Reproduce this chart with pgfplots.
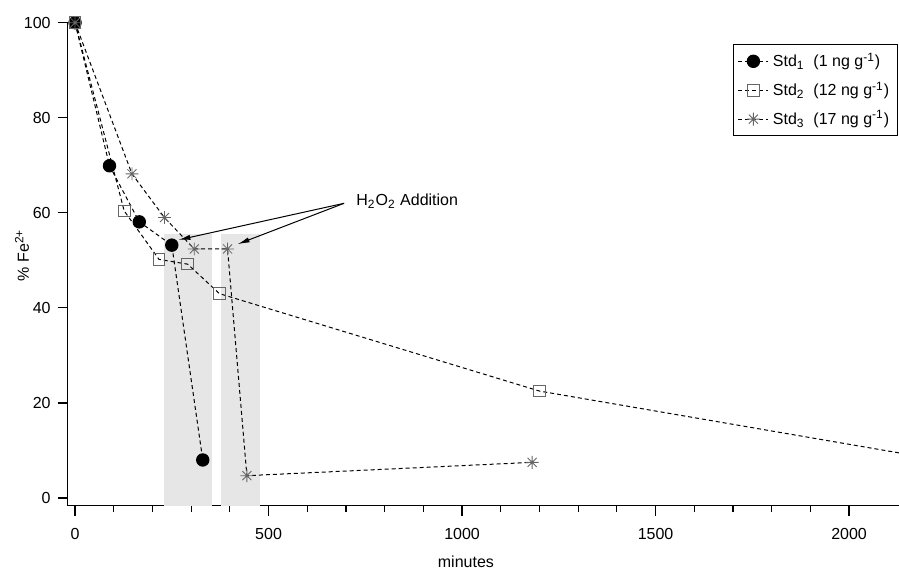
\documentclass[border=0pt]{standalone}
\usepackage{pgfplots}
\pgfplotsset{compat=1.18}
\usepackage{fontspec}
\setmainfont{Liberation Sans}
\usetikzlibrary{arrows.meta}
\definecolor{shade}{HTML}{E6E6E6}
\definecolor{mkgray}{HTML}{666666}
% eight-armed star marker
\pgfdeclareplotmark{star8}{%
  \pgfpathmoveto{\pgfqpoint{0pt}{\pgfplotmarksize}}%
  \pgfpathlineto{\pgfqpoint{0pt}{-\pgfplotmarksize}}%
  \pgfpathmoveto{\pgfqpoint{\pgfplotmarksize}{0pt}}%
  \pgfpathlineto{\pgfqpoint{-\pgfplotmarksize}{0pt}}%
  \pgfpathmoveto{\pgfqpoint{.7071\pgfplotmarksize}{.7071\pgfplotmarksize}}%
  \pgfpathlineto{\pgfqpoint{-.7071\pgfplotmarksize}{-.7071\pgfplotmarksize}}%
  \pgfpathmoveto{\pgfqpoint{-.7071\pgfplotmarksize}{.7071\pgfplotmarksize}}%
  \pgfpathlineto{\pgfqpoint{.7071\pgfplotmarksize}{-.7071\pgfplotmarksize}}%
  \pgfusepathqstroke}
\tikzset{
  dln/.style={black, line width=0.5pt, dash pattern=on 2pt off 1.5pt},
}
\begin{document}
\begin{tikzpicture}
\useasboundingbox (-33.85pt,-31.65pt) rectangle (415.65pt,252.85pt);
\begin{axis}[
  at={(0,0)}, anchor=south west,
  scale only axis, width=415.65pt, height=241.5pt,
  xmin=-19, xmax=2129, ymin=-1.62, ymax=100,
  axis lines=left, axis line style={-, line width=0.65pt},
  tick align=outside, major tick length=5pt, minor tick length=3pt,
  tick style={black, line width=0.6pt},
  xtick={0,500,1000,1500,2000}, minor x tick num=4,
  ytick={0,20,...,100}, minor y tick num=0,
  font=\fontsize{8}{9.6}\selectfont,
  /pgf/number format/assume math mode=true,
  /pgf/number format/1000 sep={},
  xticklabel style={yshift=-3pt},
  xlabel={minutes}, ylabel={\% Fe\textsuperscript{2+}},
  xlabel style={at={(axis description cs:0.479,-0.1166)}, anchor=center},
  ylabel style={at={(axis description cs:-0.055,0.519)}, anchor=center},
  clip=true,
  legend cell align=left,
  legend style={at={(axis description cs:0.8003,0.956)}, anchor=north west,
    draw=black, line width=0.5pt, fill=white, inner sep=2.2pt,
    row sep=2pt, font=\fontsize{8}{9.6}\selectfont,
    /tikz/every even column/.append style={column sep=2pt}},
  legend image code/.code={\draw[#1, mark repeat=2, mark phase=2]
    plot coordinates {(0pt,0pt) (7.5pt,0pt) (15pt,0pt)};},
]
% H2O2 addition windows
\addplot[fill=shade, draw=none, forget plot] coordinates
  {(230,-1.62) (230,55.5) (353.5,55.5) (353.5,-1.62)} -- cycle;
\addplot[fill=shade, draw=none, forget plot] coordinates
  {(376,-1.62) (376,55.5) (478,55.5) (478,-1.62)} -- cycle;

\addplot[dln, mark=*, mark size=3.1pt, mark options={solid, fill=black, draw=black}]
  coordinates {(0,100) (89,69.9) (166,58.1) (250,53.2) (330,8.0)};
\addlegendentry{Std\textsubscript{1}\ \ (1 ng g\textsuperscript{-1})}

\addplot[dln, mark=square, mark size=2.9pt, mark options={solid, draw=mkgray, line width=0.5pt}]
  coordinates {(0,100) (127,60.4) (217,50.2) (291,49.2) (373,43.0) (1200,22.5) (2400,5.7)};
\addlegendentry{Std\textsubscript{2}\ \ (12 ng g\textsuperscript{-1})}

\addplot[dln, mark=star8, mark size=3.2pt, mark options={solid, draw=mkgray, line width=0.4pt}]
  coordinates {(0,100) (147,68.2) (231,59.0) (308,52.4) (394,52.4) (444,4.7) (1181,7.5)};
\addlegendentry{Std\textsubscript{3}\ \ (17 ng g\textsuperscript{-1})}

\node[anchor=west, inner sep=0pt] at (axis cs:726,62.5) {H\textsubscript{2}O\textsubscript{2} Addition};
\draw[line width=0.5pt, -{Latex[length=6pt, width=2.6pt]}] (axis cs:695,62.0) -- (axis cs:267,54.3);
\draw[line width=0.5pt, -{Latex[length=6pt, width=2.6pt]}] (axis cs:695,62.0) -- (axis cs:420,53.4);
\end{axis}
\end{tikzpicture}
\end{document}
